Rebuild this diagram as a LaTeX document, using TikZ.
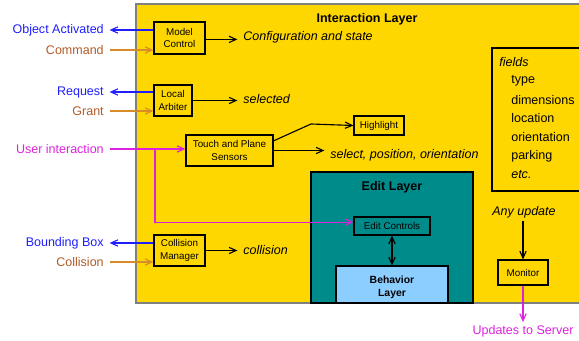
\documentclass[tikz,border=0pt]{standalone}
\usepackage{fontspec}
\setmainfont{Liberation Sans}
\usetikzlibrary{arrows}
\usetikzlibrary{arrows.meta}
\usetikzlibrary{calc}

\definecolor{ilyellow}{RGB}{255,215,0}
\definecolor{elteal}{RGB}{0,139,139}
\definecolor{blblue}{RGB}{140,206,255}
\definecolor{outblue}{RGB}{30,30,255}
\definecolor{inorange}{RGB}{216,140,40}
\definecolor{inbrown}{RGB}{176,90,40}
\definecolor{uimagenta}{RGB}{221,34,221}

\begin{document}
\begin{tikzpicture}[
		x=0.025cm,
		y=-0.025cm,
		>={Straight Barb[length=5pt,width=4.5pt]},
		box/.style={draw, line width=0.8pt, align=center, inner sep=1pt, font=\fontsize{7}{9}\selectfont},
		lbl/.style={inner xsep=4pt, inner ysep=2pt, font=\fontsize{8.9}{10.5}\selectfont},
		ilbl/.style={inner xsep=4pt, inner ysep=2pt, font=\fontsize{8.9}{10.5}\selectfont\itshape},
		hdr/.style={inner sep=0pt, font=\fontsize{8.9}{10.5}\selectfont\bfseries},
		outarr/.style={->, line width=0.8pt, outblue},
		inarr/.style={->, line width=0.8pt, inorange},
		blk/.style={->, line width=0.8pt}
	]
		\clip (0,0) rectangle (579,341);
		% layers
		\draw[gray, line width=1.2pt, fill=ilyellow] (136,4) rectangle (600,303);
		\draw[line width=0.8pt, fill=elteal] (311,172) rectangle (473,303);
		\draw[line width=0.8pt] (492,48) rectangle (600,191);
		\node[hdr] (il) at (367,19) {Interaction Layer};
		\node[hdr] (el) at (392,187) {Edit Layer};

		% boxes
		\node[box, minimum width=1.275cm, minimum height=0.8cm] (mc) at (179.5,38) {Model\\Control};
		\node[box, minimum width=0.95cm, minimum height=0.775cm] (arb) at (173,100.5) {Local\\Arbiter};
		\node[box, minimum width=2.175cm, minimum height=0.775cm] (sens) at (229.5,150.5) {Touch and Plane\\Sensors};
		\node[box, minimum width=1.25cm, minimum height=0.475cm] (hl) at (379,125.5) {Highlight};
		\node[box, minimum width=1.275cm, minimum height=0.775cm] (coll) at (179.5,250.5) {Collision\\Manager};
		\node[box, minimum width=1.9cm, minimum height=0.45cm] (ctl) at (392,226) {Edit Controls};
		\node[box, minimum width=1.25cm, minimum height=0.625cm] (mon) at (523,272.5) {Monitor};
		\node[box, fill=blblue, minimum width=2.8cm, minimum height=0.925cm, font=\fontsize{7.4}{9}\selectfont\bfseries] (beh) at (392,284.5) {\rule{0pt}{9pt}Behavior\\Layer};

		% outside labels
		\node[lbl, anchor=east, text=outblue] (oa) at (109.6,30) {Object Activated};
		\node[lbl, anchor=east, text=inbrown] (cmd) at (109.6,50) {Command};
		\node[lbl, anchor=east, text=outblue] (req) at (109.6,92) {Request};
		\node[lbl, anchor=east, text=inbrown] (grant) at (109.6,111) {Grant};
		\node[lbl, anchor=east, text=uimagenta] (ui) at (109.6,149) {User interaction};
		\node[lbl, anchor=east, text=outblue] (bb) at (109.6,243) {Bounding Box};
		\node[lbl, anchor=east, text=inbrown] (colin) at (109.6,262) {Collision};
		\node[lbl, text=uimagenta] (upd) at (523,331) {Updates to Server};

		% inside labels
		\node[ilbl, anchor=west] (cfg) at (237.4,37) {Configuration and state};
		\node[ilbl, anchor=west] (sel) at (237.4,99) {selected};
		\node[ilbl, anchor=west] (spo) at (324.4,155) {select, position, orientation};
		\node[ilbl, anchor=west] (col) at (237.4,250) {collision};
		\node[ilbl, anchor=west] (any) at (486.4,212) {Any update};
		\node[ilbl, anchor=west] (fld) at (493.4,62) {fields};
		\foreach \txt [count=\i] in {type,dimensions,location,orientation,parking}
			\node[lbl, anchor=west] (f\i) at (505.4,62+18.8*\i) {\txt};
		\node[ilbl, anchor=west] (etc) at (505.4,175) {etc.};

		% connectors
		\draw[outarr] (mc.west |- oa.east) -- (oa.east);
		\draw[inarr] (cmd.east) -- (cmd.east -| mc.west);
		\draw[outarr] (arb.west |- req.east) -- (req.east);
		\draw[inarr] (grant.east) -- (grant.east -| arb.west);
		\draw[outarr] (coll.west |- bb.east) -- (bb.east);
		\draw[inarr] (colin.east) -- (colin.east -| coll.west);
		\draw[blk] ([yshift=-1pt]mc.east) -- ([yshift=-1pt]mc.east -| cfg.west);
		\draw[blk] (arb.east) -- (arb.east -| sel.west);
		\draw[blk] (coll.east) -- (coll.east -| col.west);
		\draw[blk] (sens.east) -- (sens.east -| spo.west);
		\draw[blk] ($(sens.north east)!0.2!(sens.south east)$) -- (311,124) -- (hl.west);
		\draw[->, line width=0.8pt, uimagenta] (ui.east) -- (ui.east -| sens.west);
		\draw[->, line width=0.8pt, uimagenta] (155,149) |- ([yshift=2.8pt]ctl.west);
		\draw[<->, line width=0.8pt] (ctl.south) -- (beh.north);
		\draw[blk] (mon.north |- any.south) -- (mon.north);
		\draw[->, line width=0.8pt, uimagenta] (mon.south) -- (upd.north);
	\end{tikzpicture}
\end{document}
